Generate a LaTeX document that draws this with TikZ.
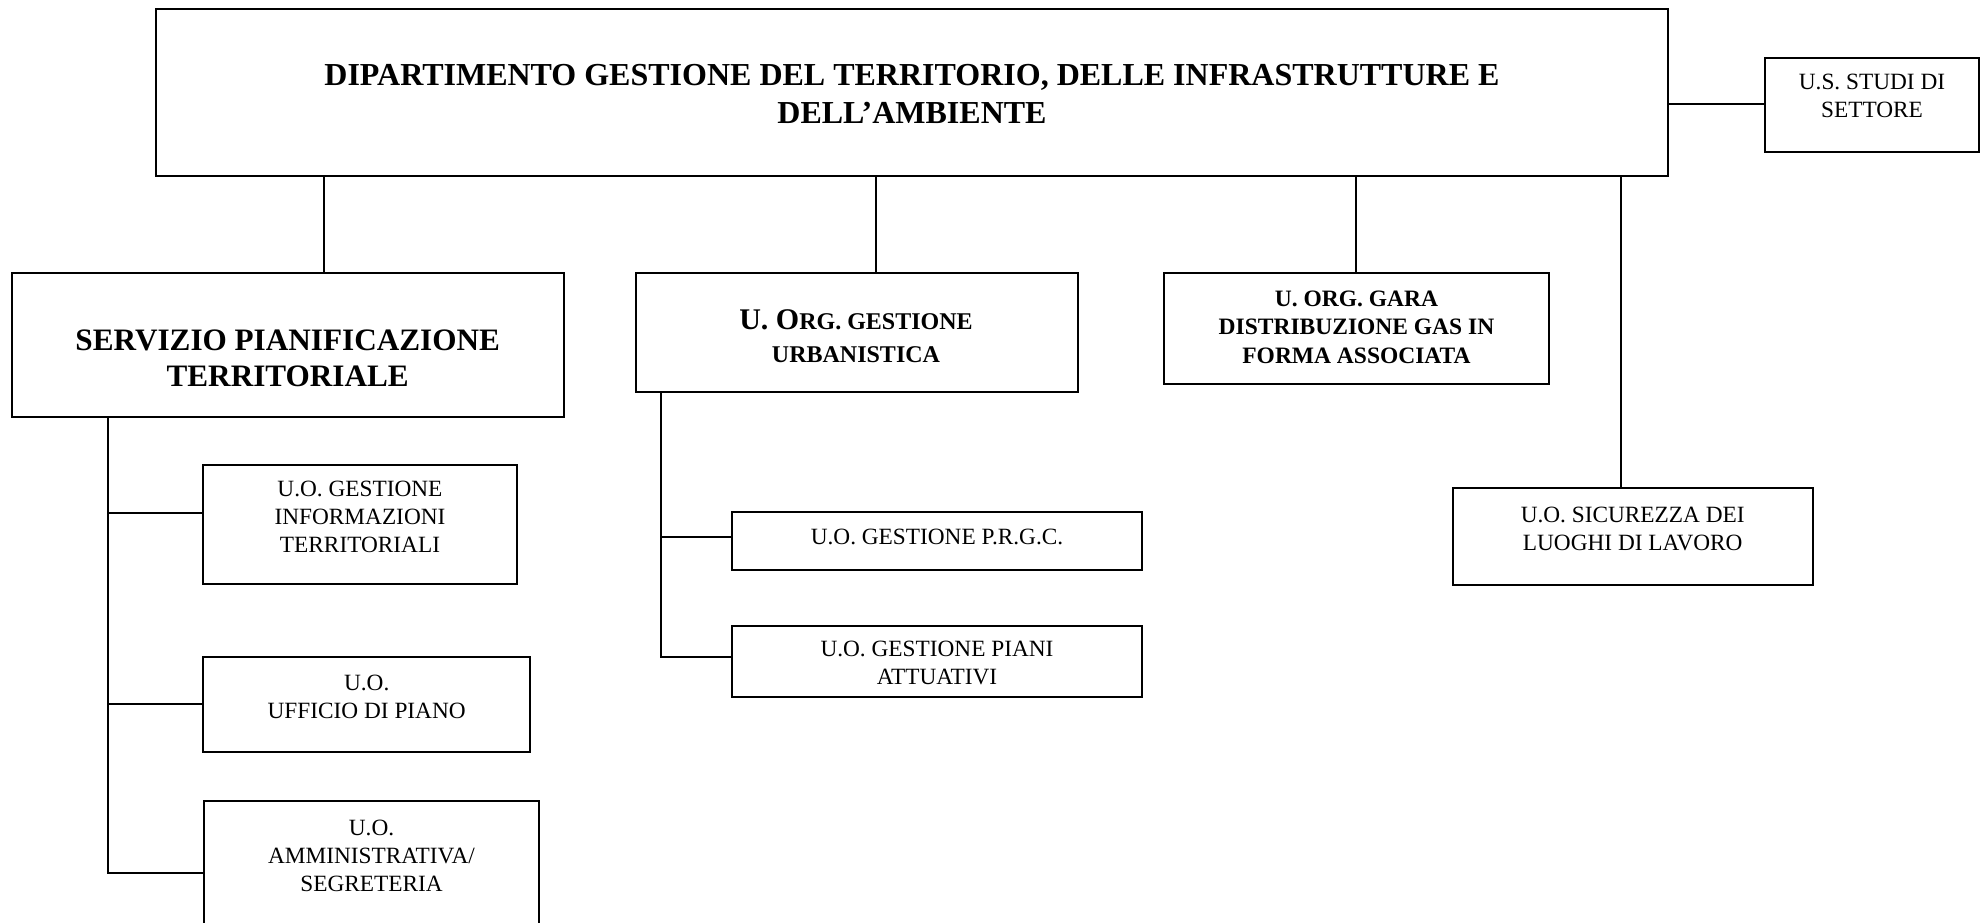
\documentclass[tikz,border=0pt]{standalone}
\usepackage{fontspec}
\setmainfont{Liberation Serif}
\usetikzlibrary{fit}
\begin{document}
\begin{tikzpicture}[x=0.5pt,y=-0.5pt,
  box/.style={draw,line width=1pt,rectangle,inner sep=0pt},
  txt/.style={inner sep=0pt,align=center},
  norm/.style={txt,font=\fontsize{11.65}{14}\selectfont},
  link/.style={line width=1pt}]
\useasboundingbox (0,0) rectangle (1981,922);
\clip (0,0) rectangle (1981,922);
% boxes
\node[box,fit={(156,9)(1668,176)}] (dip) {};
\node[box,fit={(1765,58)(1979,152)}] (us) {};
\node[box,fit={(11.5,273)(563.8,417)}] (serv) {};
\node[box,fit={(636,272.5)(1077.5,392)}] (uorg) {};
\node[box,fit={(1164,272.5)(1549,384)}] (gara) {};
\node[box,fit={(203.4,464.5)(516.7,583.5)}] (info) {};
\node[box,fit={(203.4,656.7)(530,752.3)}] (uff) {};
\node[box,fit={(204,800.5)(539,940)}] (amm) {};
\node[box,fit={(732.3,512.3)(1141.7,570)}] (prgc) {};
\node[box,fit={(732.3,625.5)(1141.7,696.7)}] (piani) {};
\node[box,fit={(1452.7,488.3)(1812.7,585)}] (sic) {};
% texts
\node[txt,font=\fontsize{16}{19}\selectfont\bfseries] (dipt) at (912,93.5)
  {DIPARTIMENTO GESTIONE DEL TERRITORIO, DELLE INFRASTRUTTURE E\\DELL’AMBIENTE};
\node[norm] (ust) at (1872,96) {U.S. STUDI DI\\SETTORE};
\node[txt,font=\fontsize{15.6}{17.9}\selectfont\bfseries] (servt) at (287.7,358.5)
  {SERVIZIO PIANIFICAZIONE\\TERRITORIALE};
\node[txt,font=\fontsize{15}{16.7}\selectfont\bfseries] (uorgt) at (856,336)
  {U. O{\fontsize{12}{16.7}\selectfont RG. GESTIONE}\\{\fontsize{12}{16.7}\selectfont URBANISTICA}};
\node[txt,font=\fontsize{11.75}{14.2}\selectfont\bfseries] (garat) at (1356.5,327)
  {U. ORG. GARA\\DISTRIBUZIONE GAS IN\\FORMA ASSOCIATA};
\node[norm] (infot) at (360,517) {U.O. GESTIONE\\INFORMAZIONI\\TERRITORIALI};
\node[norm] (ufft) at (366.7,697) {U.O.\\UFFICIO DI PIANO};
\node[norm] (ammt) at (371.5,856) {U.O.\\AMMINISTRATIVA/\\SEGRETERIA};
\node[norm] (prgct) at (937,537.3) {U.O. GESTIONE P.R.G.C.};
\node[norm] (pianit) at (937,663) {U.O. GESTIONE PIANI\\ATTUATIVI};
\node[norm] (sict) at (1632.7,529) {U.O. SICUREZZA DEI\\LUOGHI DI LAVORO};
% connector columns
\coordinate (xs) at (324,0);
\coordinate (xu) at (876,0);
\coordinate (xg) at (1356,0);
\coordinate (xk) at (1621,0);
\coordinate (ys) at (0,104);
\coordinate (vs) at (108.4,0);
\coordinate (vu) at (660.7,0);
% top-level connectors
\draw[link] (dip.south -| xs) -- (serv.north -| xs);
\draw[link] (dip.south -| xu) -- (uorg.north -| xu);
\draw[link] (dip.south -| xg) -- (gara.north -| xg);
\draw[link] (dip.south -| xk) -- (sic.north -| xk);
\draw[link] (dip.east |- ys) -- (us.west |- ys);
% servizio branch
\coordinate (ia) at (0,513.3);
\coordinate (ib) at (0,704.3);
\coordinate (ic) at (0,872.7);
\draw[link] (serv.south -| vs) -- (vs |- ic) -- (amm.west |- ic);
\draw[link] (vs |- ia) -- (info.west |- ia);
\draw[link] (vs |- ib) -- (uff.west |- ib);
% urbanistica branch
\coordinate (ua) at (0,536.7);
\coordinate (ub) at (0,656.7);
\draw[link] (uorg.south -| vu) -- (vu |- ub) -- (piani.west |- ub);
\draw[link] (vu |- ua) -- (prgc.west |- ua);
\end{tikzpicture}
\end{document}
